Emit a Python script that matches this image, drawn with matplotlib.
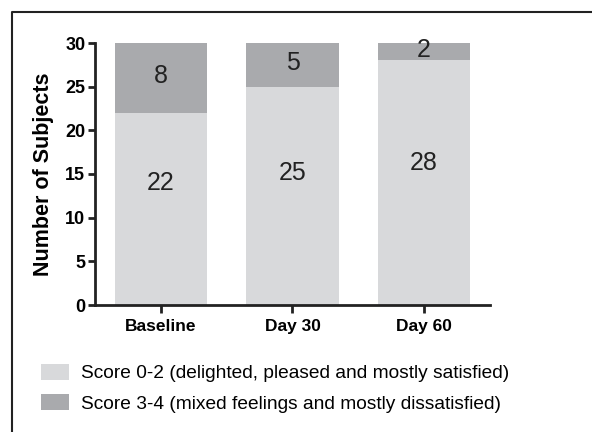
import matplotlib
matplotlib.use("Agg")
import matplotlib.pyplot as plt
from matplotlib.lines import Line2D
from matplotlib.patches import Patch

plt.rcParams['font.family'] = ['Liberation Sans', 'DejaVu Sans']

categories = ["Baseline", "Day 30", "Day 60"]
score_0_2 = [22, 25, 28]
score_3_4 = [8, 5, 2]
legend_labels = ["Score 0-2 (delighted, pleased and mostly satisfied)",
                 "Score 3-4 (mixed feelings and mostly dissatisfied)"]
yticks = [0, 5, 10, 15, 20, 25, 30]

light = "#d8d9db"
dark = "#a9aaad"

fig = plt.figure(figsize=(5.92, 4.32), dpi=100)
ax = fig.add_axes([95/592, 1-305/432, (490-95)/592, (305-43)/432])

x = list(range(len(categories)))
ax.bar(x, score_0_2, width=0.7, color=light, edgecolor='none')
ax.bar(x, score_3_4, width=0.7, bottom=score_0_2, color=dark, edgecolor='none')

lower_label_y = [14.0, 15.1, 16.3]
for i in x:
    ax.text(i, lower_label_y[i], str(score_0_2[i]), ha='center', va='center',
            fontsize=18, color='#222222')
    ax.text(i, score_0_2[i] + score_3_4[i] / 2 + 0.25, str(score_3_4[i]),
            ha='center', va='center', fontsize=18, color='#222222')

ax.set_xlim(-0.5, 2.5)
ax.set_ylim(0, 30)
ax.set_yticks(yticks)
ax.set_xticks(x)
ax.set_xticklabels(categories, fontweight='bold', fontsize=12.5)
ax.set_yticklabels([str(t) for t in yticks], fontweight='bold', fontsize=13)
ax.set_ylabel("Number of Subjects", fontweight='bold', fontsize=15.5, labelpad=8)
for s in ['top', 'right']:
    ax.spines[s].set_visible(False)
for s in ['left', 'bottom']:
    ax.spines[s].set_linewidth(2)
    ax.spines[s].set_color('#222222')
ax.tick_params(axis='both', width=2, length=5, color='#222222', pad=2)
ax.tick_params(axis='x', length=6, pad=4)

handles = [Patch(facecolor=light, edgecolor='none'), Patch(facecolor=dark, edgecolor='none')]
fig.legend(handles, legend_labels, loc='upper left', bbox_to_anchor=(33/592, 1-356/432),
           frameon=False, fontsize=13.75, handlelength=1.5, handleheight=0.95,
           handletextpad=0.6, labelspacing=0.6, borderaxespad=0, borderpad=0.4)

# outer frame (left and top edges visible)
fx = 12/592
fy = 1 - 12/432
fig.add_artist(Line2D([fx, fx, 1.0], [0.0, fy, fy], transform=fig.transFigure,
                      color='#222222', linewidth=1.5))

fig.savefig("out.png", dpi=100)
